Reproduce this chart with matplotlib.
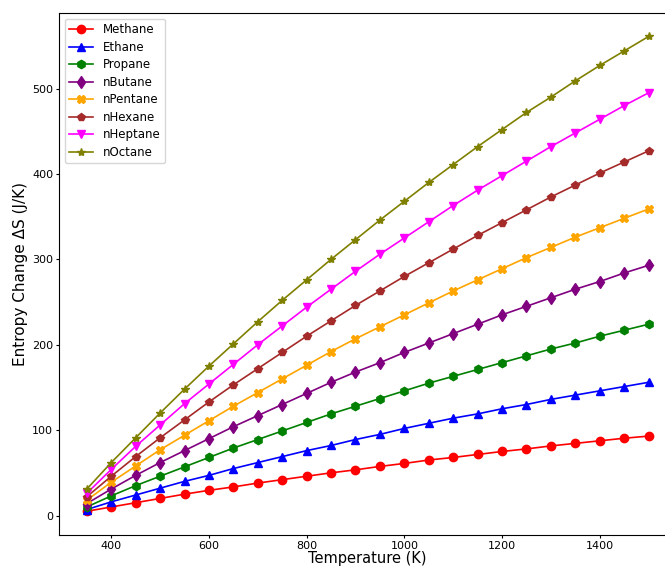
import matplotlib
matplotlib.use("Agg")
import matplotlib.pyplot as plt

# temperatures (K)
temps = list(range(350, 1501, 50))

# entropy change dS (J/K)
methane = [5, 10, 15, 20, 25, 29.5, 33.5, 38, 42, 46, 50, 53.5, 57.5, 61,
           65, 68, 71.5, 75, 78, 81.5, 84.5, 87.5, 90.5, 93]
ethane = [7, 16, 24, 32, 40, 47, 55, 62, 69, 76, 82, 89, 95, 102,
          108, 114, 119, 125, 130, 136, 141, 146, 151, 156]
propane = [10, 23, 35, 46, 57, 68, 79, 89, 99, 109, 119, 128, 137, 146,
           155, 163, 171, 179, 187, 195, 202, 210, 217, 224]
nbutane = [14, 31, 47, 62, 76, 90, 104, 117, 130, 143, 156, 168, 179, 191,
           202, 213, 224, 235, 245, 255, 265, 274, 284, 293]
npentane = [18, 39, 58, 77, 94, 111, 128, 144, 160, 176, 192, 207, 221, 235,
            249, 263, 276, 289, 302, 314, 326, 337, 348, 359]
nhexane = [22, 46, 69, 91, 112, 133, 153, 172, 191, 210, 228, 246, 263, 280,
           296, 312, 328, 343, 358, 373, 387, 401, 414, 427]
nheptane = [26, 54, 81, 106, 131, 154, 177, 200, 222, 244, 265, 286, 306, 325,
            344, 363, 381, 398, 415, 432, 448, 464, 480, 495]
noctane = [31, 62, 91, 120, 148, 175, 201, 227, 252, 276, 300, 323, 346, 368,
           390, 411, 432, 452, 472, 490, 509, 527, 544, 561]

names = ["Methane", "Ethane", "Propane", "nButane", "nPentane", "nHexane", "nHeptane", "nOctane"]
series = [methane, ethane, propane, nbutane, npentane, nhexane, nheptane, noctane]
colors = ["red", "blue", "green", "purple", "orange", "brown", "magenta", "olive"]
markers = ["o", "^", "h", "d", "X", "p", "v", "*"]

fig = plt.figure(figsize=(6.65, 5.72), dpi=100)
# right edge runs past the picture, as in the cropped original
ax = fig.add_axes([0.0883, 0.0647, 0.9293, 0.9131])

for name, vals, c, m in zip(names, series, colors, markers):
    ax.plot(temps, vals, color=c, marker=m, markersize=6, linewidth=1.2, label=name)

ax.set_xlabel("Temperature (K)", fontsize=10.5, labelpad=0)
ax.set_ylabel("Entropy Change ΔS (J/K)", fontsize=11, labelpad=3)
ax.tick_params(labelsize=8, length=2.3, pad=1.7)
ax.legend(loc="upper left", fontsize=8.5, labelspacing=0.38)

fig.savefig("out.png", dpi=100)
